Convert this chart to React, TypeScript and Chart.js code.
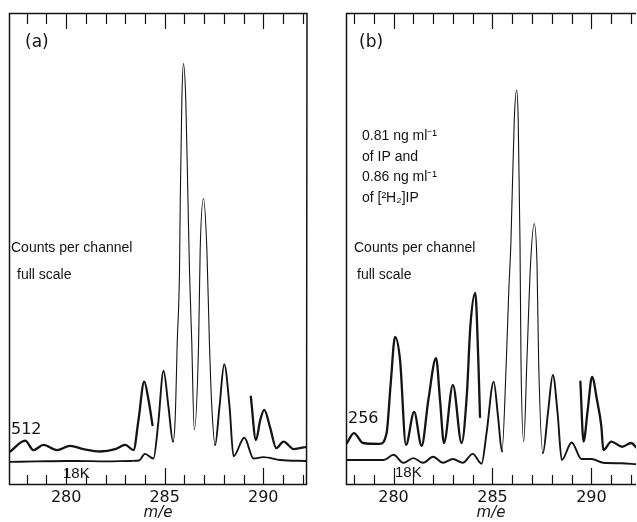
import React, { useEffect, useRef } from "react";
import { Chart, registerables } from "chart.js";

Chart.register(...registerables);

// ---------- data (m/e, signal in % of full panel height) ----------
// Panel (a): high-gain trace (512 counts full scale), two pen segments
const A_512_SEG1: [number, number][] = [
  [277.16, 7.1], [277.92, 9.4], [278.34, 7.4], [278.85, 8.5], [279.53, 7.4],
  [280.2, 8.3], [280.88, 7.6], [281.73, 7.1], [282.49, 7.6], [283.0, 8.5],
  [283.42, 7.4], [283.67, 13.8], [283.96, 21.9], [284.18, 18.0], [284.38, 12.7],
];
const A_512_SEG2: [number, number][] = [
  [289.37, 18.7], [289.63, 9.5], [289.85, 13.8], [290.05, 15.9], [290.36, 12.0],
  [290.66, 7.8], [291.03, 9.2], [291.54, 7.6], [292.2, 8.1],
];
// Panel (a): low-gain trace (18K full scale) incl. the main peaks
const A_18K: [number, number][] = [
  [277.16, 4.9], [278.5, 5.0], [280.0, 5.1], [280.54, 5.1], [282.0, 5.0],
  [283.3, 5.1], [283.7, 5.2], [284.0, 6.6], [284.43, 5.6], [284.67, 13.0],
  [284.94, 24.2], [285.19, 16.6], [285.42, 9.2], [285.53, 13.8], [285.64, 30.7],
  [285.75, 45.0], [285.79, 60.4], [285.87, 81.6], [285.95, 89.3], [286.07, 81.6],
  [286.18, 60.4], [286.26, 45.0], [286.37, 30.7], [286.5, 11.7], [286.72, 30.0],
  [286.8, 49.8], [286.97, 60.7], [287.14, 49.8], [287.27, 30.0], [287.39, 16.6],
  [287.56, 8.5], [287.78, 16.6], [288.02, 25.6], [288.29, 16.6], [288.49, 6.1],
  [289.04, 10.0], [289.51, 5.6], [290.0, 5.9], [290.86, 5.3], [292.2, 5.1],
];

// Panel (b): high-gain trace (256 counts full scale), two pen segments
const B_256_SEG1: [number, number][] = [
  [277.65, 8.9], [278.0, 11.0], [278.46, 8.9], [279.3, 8.7], [279.65, 11.0],
  [279.86, 21.6], [280.08, 31.4], [280.33, 26.5], [280.63, 8.5], [281.04, 15.5],
  [281.42, 8.3], [281.76, 18.0], [282.15, 26.9], [282.35, 18.0], [282.55, 8.9],
  [283.0, 21.2], [283.44, 8.9], [283.71, 19.5], [283.88, 33.5], [284.13, 40.7],
  [284.28, 27.0], [284.37, 14.4],
];
const B_256_SEG2: [number, number][] = [
  [289.44, 21.9], [289.6, 9.2], [289.81, 15.9], [290.03, 22.9], [290.28, 18.0],
  [290.5, 12.4], [290.6, 7.4], [291.0, 9.2], [291.55, 8.1], [292.0, 8.9], [292.3, 7.8],
];
// Panel (b): low-gain trace (18K full scale) incl. the main peaks
const B_18K: [number, number][] = [
  [277.65, 5.3], [278.5, 5.3], [279.5, 5.3], [280.0, 6.4], [280.5, 4.7],
  [281.0, 5.7], [281.5, 4.7], [282.0, 6.0], [282.5, 4.7], [283.0, 5.5],
  [283.5, 4.7], [284.0, 6.6], [284.45, 4.5], [284.7, 11.0], [285.06, 21.9],
  [285.28, 14.5], [285.48, 7.1], [285.7, 26.5], [285.82, 40.7], [285.93, 51.3],
  [286.1, 77.3], [286.22, 83.7], [286.3, 77.3], [286.39, 51.3], [286.44, 26.5],
  [286.58, 9.2], [286.74, 26.5], [286.92, 46.6], [287.11, 55.4], [287.25, 46.6],
  [287.33, 26.5], [287.55, 6.8], [287.8, 15.2], [288.05, 23.3], [288.29, 15.2],
  [288.5, 5.3], [289.0, 9.0], [289.5, 5.5], [290.0, 5.5], [290.6, 4.7],
  [291.5, 4.6], [292.3, 4.4],
];

// m/e window in which the pen draws the two main peaks with a thin line
const A_THIN_WINDOW = [285.42, 287.56];
const B_THIN_WINDOW = [285.48, 287.55];

// ---------- axes / labels ----------
const X_TICK_LABELS = [280, 285, 290];
const MINOR_TICKS = [278, 279, 280, 281, 282, 283, 284, 285, 286, 287, 288, 289, 290, 291, 292];
const X_TITLE = "m/e";
const A_RANGE = [277.1, 292.22];
const B_RANGE = [277.6, 292.25];
const A_TAG = "(a)";
const B_TAG = "(b)";
const A_GAIN = "512";
const B_GAIN = "256";
const LOW_GAIN = "18K";
const COUNTS_TEXT = ["Counts per channel", "full scale"];
const B_SAMPLE_TEXT = ["0.81 ng ml\u207B\u00B9", "of IP and", "0.86 ng ml\u207B\u00B9", "of [\u00B2H\u2082]IP"];

const INK = "#141414";

type TextItem = { text: string; x: number; y: number; font: string };

const framePlugin = {
  id: "frame",
  afterDatasetsDraw(chart: any, _args: any, opts: any) {
    const { ctx, chartArea: a, scales } = chart;
    const x = scales.x;
    ctx.save();
    ctx.strokeStyle = INK;
    ctx.lineWidth = 1.5;
    ctx.beginPath();
    ctx.moveTo(a.left + 0.5, a.bottom);
    ctx.lineTo(a.left + 0.5, a.top + 0.5);
    ctx.lineTo(a.right, a.top + 0.5);
    if (opts.rightBorder) ctx.lineTo(a.right - 0.5, a.bottom);
    ctx.moveTo(a.left, a.bottom - 0.5);
    ctx.lineTo(a.right, a.bottom - 0.5);
    ctx.stroke();

    ctx.lineWidth = 1.2;
    ctx.beginPath();
    for (const v of MINOR_TICKS) {
      if (v < x.min || v > x.max) continue;
      const px = Math.round(x.getPixelForValue(v)) + 0.5;
      const major = X_TICK_LABELS.includes(v);
      ctx.moveTo(px, a.top);
      ctx.lineTo(px, a.top + (major ? 16 : 11));
      ctx.moveTo(px, a.bottom);
      ctx.lineTo(px, a.bottom - (major ? 17 : 10));
    }
    ctx.stroke();

    ctx.fillStyle = INK;
    ctx.textBaseline = "middle";
    ctx.textAlign = "left";
    for (const t of opts.texts as TextItem[]) {
      ctx.font = t.font;
      ctx.fillText(t.text, t.x, t.y);
    }
    ctx.restore();
  },
};

const toXY = (arr: [number, number][]) => arr.map(([x, y]) => ({ x, y }));

function makeConfig(
  range: number[],
  upper: [number, number][][],
  lower: [number, number][],
  thin: number[],
  padLeft: number,
  padRight: number,
  rightBorder: boolean,
  texts: TextItem[]
): any {
  const datasets: any[] = [
    {
      data: toXY(lower),
      borderColor: INK,
      borderWidth: 1.8,
      segment: {
        borderWidth: (c: any) =>
          c.p0.parsed.x >= thin[0] && c.p1.parsed.x <= thin[1] ? 1.1 : 1.9,
      },
    },
    ...upper.map((seg) => ({
      data: toXY(seg),
      borderColor: INK,
      borderWidth: 2.3,
    })),
  ];
  return {
    type: "line",
    data: { datasets },
    plugins: [framePlugin],
    options: {
      responsive: false,
      animation: false,
      devicePixelRatio: 1,
      layout: { padding: { left: padLeft, right: padRight, top: 13, bottom: 0 } },
      elements: {
        point: { radius: 0, hoverRadius: 0 },
        line: { cubicInterpolationMode: "monotone", fill: false, borderJoinStyle: "round", borderCapStyle: "round" },
      },
      plugins: {
        legend: { display: false },
        tooltip: { enabled: false },
        frame: { rightBorder, texts },
      },
      scales: {
        x: {
          type: "linear",
          min: range[0],
          max: range[1],
          grid: { display: false, drawTicks: false },
          border: { display: false },
          afterBuildTicks: (s: any) => {
            s.ticks = X_TICK_LABELS.map((v) => ({ value: v }));
          },
          afterFit: (s: any) => {
            s.height = 37;
          },
          ticks: {
            color: INK,
            padding: 3,
            maxRotation: 0,
            autoSkip: false,
            font: { family: "DejaVu Sans", size: 16 },
            callback: (v: any) => String(v),
          },
          title: {
            display: true,
            text: X_TITLE,
            color: INK,
            font: { family: "DejaVu Sans", size: 15, style: "italic" },
            padding: { top: 0, bottom: 0 },
          },
        },
        y: { display: false, min: 0, max: 100 },
      },
    },
  };
}

const TXT = "14px 'Liberation Sans', Arial, sans-serif";
const NUM = "16px 'DejaVu Sans', sans-serif";
const SMALL = "15px 'Liberation Sans', Arial, sans-serif";

function Panel(props: { left: number; width: number; config: any }) {
  const ref = useRef<HTMLCanvasElement | null>(null);
  useEffect(() => {
    if (!ref.current) return;
    const chart = new Chart(ref.current, props.config);
    return () => chart.destroy();
  }, []);
  return (
    <canvas
      ref={ref}
      width={props.width}
      height={522}
      style={{ position: "absolute", left: props.left, top: 0, width: props.width, height: 522 }}
    />
  );
}

export default function App() {
  const aTexts: TextItem[] = [
    { text: A_TAG, x: 25, y: 43, font: "17px 'DejaVu Sans', sans-serif" },
    { text: COUNTS_TEXT[0], x: 11, y: 248, font: TXT },
    { text: COUNTS_TEXT[1], x: 17, y: 275, font: TXT },
    { text: A_GAIN, x: 11, y: 430, font: NUM },
    { text: LOW_GAIN, x: 63, y: 474, font: SMALL },
  ];
  const bTexts: TextItem[] = [
    { text: B_TAG, x: 42, y: 43, font: "17px 'DejaVu Sans', sans-serif" },
    { text: B_SAMPLE_TEXT[0], x: 45, y: 136, font: TXT },
    { text: B_SAMPLE_TEXT[1], x: 45, y: 157, font: TXT },
    { text: B_SAMPLE_TEXT[2], x: 45, y: 177, font: TXT },
    { text: B_SAMPLE_TEXT[3], x: 45, y: 198, font: TXT },
    { text: COUNTS_TEXT[0], x: 37, y: 248, font: TXT },
    { text: COUNTS_TEXT[1], x: 40, y: 275, font: TXT },
    { text: B_GAIN, x: 31, y: 419, font: NUM },
    { text: LOW_GAIN, x: 78, y: 473, font: SMALL },
  ];
  const cfgA = makeConfig(A_RANGE, [A_512_SEG1, A_512_SEG2], A_18K, A_THIN_WINDOW, 9, 11, true, aTexts);
  const cfgB = makeConfig(B_RANGE, [B_256_SEG1, B_256_SEG2], B_18K, B_THIN_WINDOW, 29, 1, false, bTexts);
  return (
    <div style={{ position: "absolute", left: 0, top: 0, width: 637, height: 522, background: "#fff" }}>
      <Panel left={0} width={318} config={cfgA} />
      <Panel left={317} width={320} config={cfgB} />
    </div>
  );
}
